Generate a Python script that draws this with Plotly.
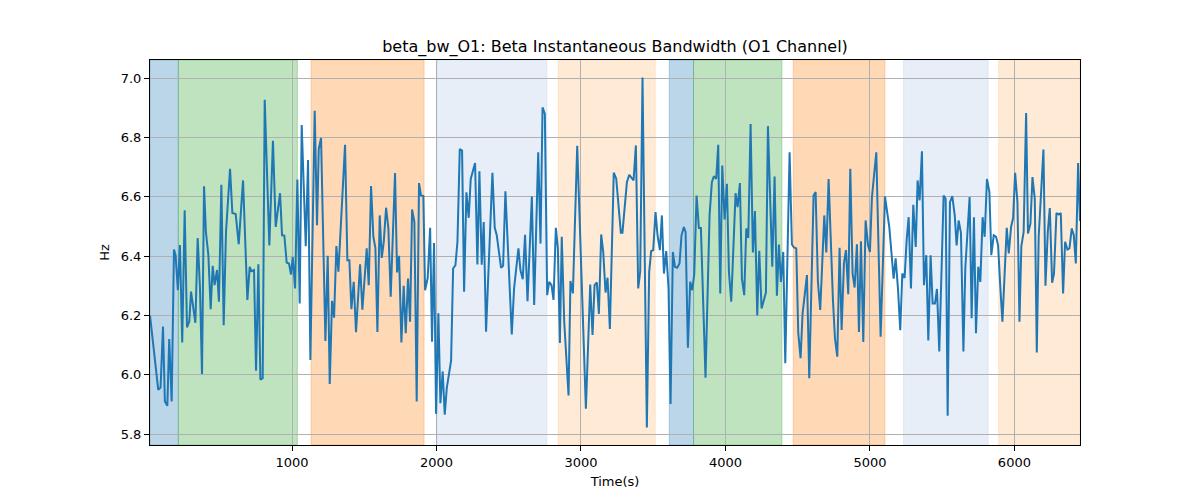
import plotly.graph_objects as go

# ---- data ----
time_s = [
    17, 44, 74, 90, 107, 120, 137, 150, 167, 183, 194, 210, 224, 240, 257, 273, 289, 301, 317, 331,
    347, 363, 377, 391, 404, 421, 437, 451, 464, 481, 494, 511, 527, 543, 571, 587, 610, 631, 661,
    691, 707, 718, 737, 751, 767, 781, 797, 811, 843, 868, 887, 917, 931, 947, 963, 979, 993, 1005,
    1021, 1037, 1053, 1067, 1095, 1111, 1127, 1157, 1173, 1185, 1201, 1231, 1247, 1261, 1277, 1291, 1307, 1321,
    1332, 1367, 1383, 1397, 1411, 1427, 1443, 1471, 1487, 1517, 1531, 1547, 1563, 1577, 1591, 1607, 1621, 1635,
    1651, 1667, 1683, 1713, 1727, 1741, 1757, 1773, 1787, 1803, 1817, 1831, 1847, 1863, 1879, 1893, 1909, 1921,
    1939, 1956, 1969, 1983,
    1997, 2013, 2027, 2043, 2057, 2071, 2101, 2115, 2131, 2145, 2161, 2177, 2191, 2207, 2223, 2237, 2267, 2283,
    2297, 2313, 2327, 2343, 2387, 2403, 2417, 2447, 2461, 2477, 2521, 2537, 2567, 2581, 2597, 2613, 2630,
    2660, 2676, 2704, 2720, 2734, 2750, 2766, 2780, 2796, 2810, 2826, 2840, 2854, 2867, 2884, 2914, 2927, 2944,
    2974, 3034, 3064, 3080, 3094, 3110, 3124, 3140, 3154, 3170, 3184, 3200, 3227, 3244, 3276, 3287,
    3318, 3334, 3364, 3380, 3396, 3410, 3426, 3456, 3472, 3486, 3500, 3516, 3530, 3546, 3560, 3574, 3590, 3606,
    3620, 3636, 3650, 3666, 3682, 3696, 3712, 3724, 3740, 3756, 3770, 3784, 3800, 3816, 3830, 3862, 3890, 3906,
    3920, 3936, 3950,
    3964, 3978, 3994, 4010, 4024, 4040, 4070, 4084, 4100, 4114, 4130, 4144, 4158, 4174, 4190, 4204, 4220, 4234,
    4250, 4264, 4280, 4294, 4324, 4340, 4356, 4370, 4384, 4400, 4414, 4444, 4460, 4474, 4490, 4504, 4520, 4534,
    4548, 4564, 4580, 4596, 4610,
    4624, 4640, 4656, 4684, 4698, 4714, 4744, 4758, 4774, 4790, 4804, 4820, 4834, 4850, 4864, 4880, 4894, 4910,
    4924, 4938, 4954, 4970, 4987, 5000, 5014, 5044, 5074, 5104, 5134, 5164, 5178, 5194, 5210, 5224, 5240, 5254, 5268,
    5284, 5300, 5317, 5330, 5344, 5360, 5374, 5390, 5404, 5420, 5434, 5450, 5464, 5480, 5510, 5524, 5538, 5554,
    5570, 5587, 5600, 5614, 5630, 5647, 5660, 5690, 5704, 5720, 5734, 5750, 5764, 5780, 5794, 5810, 5827, 5840,
    5857, 5873, 5887, 5903, 5917,
    5947, 5961, 5977, 5991, 6005, 6021, 6035, 6048, 6064, 6081, 6094, 6111, 6125, 6141, 6155, 6168, 6201, 6215,
    6231, 6245, 6261, 6274, 6291, 6307, 6321, 6337, 6351, 6367, 6381, 6397, 6411, 6425, 6441, 6454,
]

beta_bw_hz = [
    6.20, 6.083, 5.949, 5.957, 6.162, 5.91, 5.895, 6.12, 5.91, 6.422, 6.403, 6.285, 6.437, 6.109, 6.554, 6.16,
    6.179, 6.28, 6.229, 6.175, 6.461, 6.291, 6.002, 6.635, 6.481, 6.403, 6.221, 6.367, 6.302, 6.353, 6.246, 6.64,
    6.167, 6.481, 6.694, 6.545, 6.542, 6.44, 6.655,
    6.252, 6.364, 6.349, 6.353, 6.013, 6.372, 5.983, 5.988, 6.927, 6.436, 6.789, 6.498, 6.612, 6.47, 6.469, 6.378,
    6.375, 6.338, 6.397, 6.291, 6.658, 6.24, 6.842, 6.433, 6.724, 6.05, 6.89, 6.504, 6.761, 6.798, 6.114, 6.401,
    5.969, 6.249, 6.192, 6.434, 6.347,
    6.448, 6.775, 6.386, 6.386, 6.221, 6.313, 6.143, 6.372, 6.219, 6.426, 6.302, 6.636, 6.465, 6.428, 6.144, 6.537,
    6.394, 6.448, 6.563, 6.493, 6.263, 6.68, 6.345, 6.401, 6.109, 6.300, 6.14, 6.324, 6.179, 6.557, 6.515, 5.91,
    6.646, 6.604, 6.602, 6.285, 6.326, 6.495, 6.111, 6.444,
    5.868, 6.207, 5.904, 6.011, 5.865, 5.955, 6.047, 6.358, 6.369, 6.448, 6.761, 6.756, 6.280, 6.615, 6.529, 6.66,
    6.714, 6.372, 6.686, 6.371, 6.515, 6.145, 6.681, 6.496, 6.47, 6.36, 6.367, 6.618, 6.136, 6.291, 6.426, 6.353,
    6.322, 6.472, 6.248,
    6.601, 6.235, 6.75, 6.442, 6.901, 6.879, 6.268, 6.313, 6.302, 6.252, 6.495, 6.426, 6.107, 6.465, 6.179, 5.93,
    6.316, 6.274, 6.772, 5.885, 6.304, 6.134, 6.302, 6.311, 6.205, 6.473, 6.413, 6.277, 6.327, 6.154, 6.681, 6.661,
    6.479, 6.479,
    6.649, 6.674, 6.655, 6.773, 6.291, 6.347, 7.002, 5.822, 6.347, 6.417, 6.42, 6.548, 6.47, 6.42, 6.537, 6.341,
    6.417, 6.291, 5.901, 6.414, 6.364, 6.361, 6.375, 6.47, 6.498, 6.481, 6.091, 6.313, 6.285, 6.339, 6.604, 6.495,
    6.495, 5.99, 6.537, 6.649, 6.669, 6.66, 6.775,
    6.274, 6.705, 6.523, 6.644, 6.347, 6.246, 6.612, 6.565, 6.646, 6.324, 6.268, 6.493, 6.461, 6.845, 6.412, 6.552,
    6.2, 6.418, 6.223, 6.248, 6.277, 6.838, 6.364, 6.668, 6.266, 6.439, 6.313, 6.414, 6.039, 6.75, 6.439, 6.429,
    6.426, 6.14, 6.056, 6.207, 6.268, 6.336, 5.988, 6.358, 6.604,
    6.616, 6.313, 6.218, 6.537, 6.412, 6.66, 6.252, 6.122, 6.061, 6.428, 6.151, 6.375, 6.42, 6.271, 6.694, 6.341,
    6.294, 6.44, 6.144, 6.45, 6.11, 6.52, 6.436, 6.414, 6.599, 6.75, 6.128, 6.601, 6.498, 6.324, 6.392, 6.291,
    6.15, 6.341, 6.326, 6.453, 6.531,
    6.291, 6.573, 6.431, 6.655, 6.588, 6.753, 6.302, 6.403, 6.115, 6.403, 6.24, 6.24, 6.289, 6.078, 6.604, 6.593,
    5.862, 6.582, 6.602, 6.537, 6.436, 6.52, 6.478, 6.078, 6.358, 6.599, 6.19, 6.531, 6.14, 6.364, 6.313, 6.531,
    6.465, 6.66, 6.616, 6.403, 6.47, 6.465, 6.436, 6.291, 6.179,
    6.495, 6.409, 6.498, 6.528, 6.681, 6.582, 6.179, 6.433, 6.481, 6.882, 6.476, 6.509, 6.666, 6.593, 6.075, 6.465,
    6.759, 6.3, 6.481, 6.562, 6.31, 6.341, 6.545, 6.54, 6.545, 6.274, 6.448, 6.422, 6.426, 6.493, 6.47, 6.375,
    6.714, 6.518,
]

# shaded stage intervals
span_starts = [17, 213, 1132, 2006, 2842, 3611, 3779, 4469, 5233, 5891]
span_ends = [213, 1037, 1914, 2764, 3514, 3779, 4391, 5104, 5818, 6454]
span_colors = [
    "rgba(31,119,180,0.3)", "rgba(44,160,44,0.3)", "rgba(255,127,14,0.3)",
    "rgba(174,199,232,0.3)", "rgba(255,187,120,0.3)",
    "rgba(31,119,180,0.3)", "rgba(44,160,44,0.3)", "rgba(255,127,14,0.3)",
    "rgba(174,199,232,0.3)", "rgba(255,187,120,0.3)",
]

x_ticks = [1000, 2000, 3000, 4000, 5000, 6000]
y_ticks = [5.8, 6.0, 6.2, 6.4, 6.6, 6.8, 7.0]

FONT = "DejaVu Sans"

fig = go.Figure()

for s, e, c in zip(span_starts, span_ends, span_colors):
    fig.add_vrect(x0=s, x1=e, fillcolor=c, line=dict(color=c, width=1), layer="below")

fig.add_trace(go.Scatter(
    x=time_s, y=beta_bw_hz, mode="lines",
    line=dict(color="#1f77b4", width=2),
    showlegend=False,
))

ymin, ymax = min(beta_bw_hz), max(beta_bw_hz)
pad = (ymax - ymin) * 0.05

axis_common = dict(
    showline=True, linecolor="black", linewidth=1, mirror=True,
    ticks="outside", ticklen=5, tickwidth=1, tickcolor="black",
    showgrid=True, gridcolor="#b0b0b0", gridwidth=1,
    zeroline=False,
    tickfont=dict(family=FONT, size=13, color="black"),
)

fig.update_layout(
    width=1200, height=500,
    paper_bgcolor="white", plot_bgcolor="rgba(0,0,0,0)",
    margin=dict(l=150, r=120, t=60, b=55),
    font=dict(family=FONT, color="black"),
    title=dict(
        text="beta_bw_O1: Beta Instantaneous Bandwidth (O1 Channel)",
        font=dict(family=FONT, size=16, color="black"),
        x=0.5, xanchor="center", xref="paper",
        y=0.908, yanchor="middle", yref="container",
    ),
    xaxis=dict(
        range=[time_s[0], time_s[-1]],
        tickvals=x_ticks,
        title=dict(text="Time(s)", font=dict(family=FONT, size=13, color="black"), standoff=8),
        **axis_common,
    ),
    yaxis=dict(
        range=[ymin - pad, ymax + pad],
        tickvals=y_ticks, tickformat=".1f",
        title=dict(text="Hz", font=dict(family=FONT, size=13, color="black"), standoff=8),
        **axis_common,
    ),
)

fig.write_html(
    "out.html",
    config={"displayModeBar": False},
    post_script="document.body.style.margin='0';document.body.style.overflow='hidden';",
)
